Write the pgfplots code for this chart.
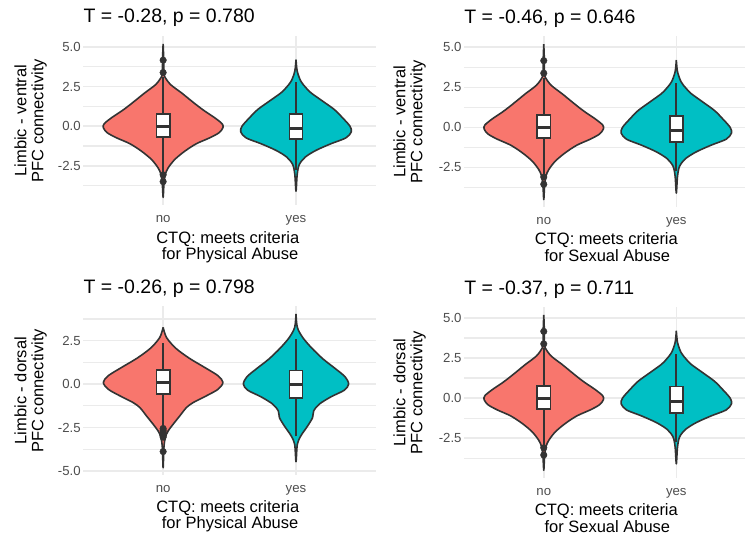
\documentclass[border=0pt]{standalone}
\usepackage{pgfplots}
\pgfplotsset{compat=1.18}
\usepackage{pgfplotstable}
\usepackage{fontspec}
\setmainfont{Liberation Sans}
\definecolor{vred}{HTML}{F8766D}
\definecolor{vteal}{HTML}{00BFC4}
\definecolor{dk}{HTML}{333333}
\definecolor{gridc}{HTML}{EBEBEB}
\definecolor{tickc}{HTML}{4D4D4D}

% violin outlines: y value and signed half-width (x units), right side then left side
\pgfplotstableread{
y w
5.19 0
4.31 0.004
3.47 0.005
3.15 0.010
2.63 0.055
2.10 0.138
1.68 0.200
1.26 0.263
0.95 0.313
0.53 0.388
0.15 0.444
-0.10 0.450
-0.42 0.420
-0.74 0.350
-1.11 0.250
-1.58 0.163
-2.10 0.088
-2.63 0.038
-3.05 0.016
-3.68 0.006
-4.50 0
-3.68 -0.006
-3.05 -0.016
-2.63 -0.038
-2.10 -0.088
-1.58 -0.163
-1.11 -0.250
-0.74 -0.350
-0.42 -0.420
-0.10 -0.450
0.15 -0.444
0.53 -0.388
0.95 -0.313
1.26 -0.263
1.68 -0.200
2.10 -0.138
2.63 -0.055
3.15 -0.010
3.47 -0.005
4.31 -0.004
5.19 0
}\vAno
\pgfplotstableread{
y w
4.20 0
3.47 0.009
2.84 0.036
2.42 0.075
2.10 0.113
1.58 0.200
1.05 0.288
0.53 0.350
0.00 0.406
-0.36 0.416
-0.74 0.376
-1.11 0.263
-1.53 0.150
-1.95 0.070
-2.42 0.025
-3.05 0.009
-4.10 0
-3.05 -0.009
-2.42 -0.025
-1.95 -0.070
-1.53 -0.150
-1.11 -0.263
-0.74 -0.376
-0.36 -0.416
0.00 -0.406
0.53 -0.350
1.05 -0.288
1.58 -0.200
2.10 -0.113
2.42 -0.075
2.84 -0.036
3.47 -0.009
4.20 0
}\vAyes
\pgfplotstableread{
y w
3.27 0
2.69 0.025
2.08 0.093
1.50 0.195
0.96 0.313
0.48 0.414
0.10 0.450
-0.29 0.414
-0.67 0.326
-1.06 0.226
-1.35 0.175
-1.83 0.125
-2.31 0.075
-2.69 0.038
-3.08 0.016
-3.65 0.006
-4.81 0
-3.65 -0.006
-3.08 -0.016
-2.69 -0.038
-2.31 -0.075
-1.83 -0.125
-1.35 -0.175
-1.06 -0.226
-0.67 -0.326
-0.29 -0.414
0.10 -0.450
0.48 -0.414
0.96 -0.313
1.50 -0.195
2.08 -0.093
2.69 -0.025
3.27 0
}\vBno
\pgfplotstableread{
y w
4.04 0
3.27 0.010
2.69 0.050
2.08 0.118
1.44 0.205
0.87 0.300
0.42 0.370
0.00 0.396
-0.35 0.363
-0.73 0.263
-1.15 0.175
-1.54 0.133
-1.92 0.125
-2.40 0.088
-2.98 0.036
-3.46 0.010
-4.46 0
-3.46 -0.010
-2.98 -0.036
-2.40 -0.088
-1.92 -0.125
-1.54 -0.133
-1.15 -0.175
-0.73 -0.263
-0.35 -0.363
0.00 -0.396
0.42 -0.370
0.87 -0.300
1.44 -0.205
2.08 -0.118
2.69 -0.050
3.27 -0.010
4.04 0
}\vByes

% #1 table, #2 centre, #3 colour
\newcommand{\violin}[3]{%
  \addplot[fill=#3, draw=dk, line width=1.6pt, smooth, line join=round] table[x expr=#2+\thisrow{w}, y=y] {#1};
}
% #1 left, #2 centre, #3 right, #4 lower whisker, #5 lower quartile, #6 median, #7 upper quartile, #8 upper whisker
\newcommand{\bx}[8]{%
  \addplot[dk, line width=1.7pt] coordinates {(#2,#4) (#2,#5)};
  \addplot[dk, line width=1.7pt] coordinates {(#2,#7) (#2,#8)};
  \addplot[draw=dk, fill=white, line width=1.7pt, line join=miter, line cap=rect] coordinates {(#1,#5) (#3,#5) (#3,#7) (#1,#7) (#1,#5)};
  \addplot[dk, line width=3pt] coordinates {(#1,#6) (#3,#6)};
}

\pgfplotsset{panel/.style={
  scale only axis, anchor=south west,
  xmin=0.4,
  xtick={1,2}, xticklabels={no,yes}, minor xtick={},
  axis line style={draw=none}, major tick length=0pt, minor tick length=0pt,
  grid=both,
  major grid style={gridc, line width=1.5pt},
  minor grid style={gridc, line width=1.2pt},
  tick label style={font=\fontsize{13.2}{14}\selectfont, text=tickc},
  xticklabel style={anchor=base, inner sep=0pt, yshift=-17.4pt},
  yticklabel style={anchor=east, inner sep=0pt, xshift=-2.5pt},
  outl/.style={only marks, mark=*, mark size=3.3pt, color=dk},
}}
\newcommand{\tfont}{\fontsize{19.5}{20}\selectfont}
\newcommand{\afont}{\fontsize{16.5}{17}\selectfont}

\begin{document}
\begin{tikzpicture}[x=1pt, y=1pt]
\path (0pt,0pt) rectangle (746pt,537pt);

% ---------- Panel 1 ----------
\begin{axis}[panel, at={(83.5pt,331.7pt)}, width=292.6pt, height=169pt,
  xmax=2.6, ymin=-4.98, ymax=5.67,
  ytick={-2.5,0,2.5,5}, yticklabels={-2.5,0.0,2.5,5.0},
  minor ytick={-3.75,-1.25,1.25,3.75}]
\violin{\vAno}{1}{vred}
\violin{\vAyes}{2}{vteal}
\bx{0.95}{1}{1.05}{-2.9}{-0.67}{-0.04}{0.78}{3.1}
\bx{1.95}{2}{2.05}{-2.78}{-0.82}{-0.15}{0.78}{2.8}
\addplot[outl] coordinates {(1,4.16) (1,3.38) (1,-3.07) (1,-3.5)};
\end{axis}

% ---------- Panel 2 ----------
\begin{axis}[panel, at={(464.7pt,329.6pt)}, width=281.3pt, height=170.9pt,
  xmax=2.52, ymin=-4.98, ymax=5.67,
  ytick={-2.5,0,2.5,5}, yticklabels={-2.5,0.0,2.5,5.0},
  minor ytick={-3.75,-1.25,1.25,3.75}]
\violin{\vAno}{1}{vred}
\violin{\vAyes}{2}{vteal}
\bx{0.95}{1}{1.05}{-2.9}{-0.68}{-0.04}{0.75}{3.1}
\bx{1.95}{2}{2.05}{-2.74}{-0.93}{-0.2}{0.73}{2.76}
\addplot[outl] coordinates {(1,4.16) (1,3.38) (1,-3.1) (1,-3.55)};
\end{axis}

% ---------- Panel 3 ----------
\begin{axis}[panel, at={(83.5pt,61.3pt)}, width=292.6pt, height=169.1pt,
  xmax=2.6, ymin=-5.24, ymax=4.48,
  ytick={-5,-2.5,0,2.5}, yticklabels={-5.0,-2.5,0.0,2.5},
  minor ytick={-3.75,-1.25,1.25,3.75}]
\violin{\vBno}{1}{vred}
\violin{\vByes}{2}{vteal}
\bx{0.95}{1}{1.05}{-2.45}{-0.55}{0.08}{0.8}{2.35}
\bx{1.95}{2}{2.05}{-3.0}{-0.79}{-0.02}{0.78}{2.57}
\addplot[outl] coordinates {(1,-2.55) (1,-2.65) (1,-2.75) (1,-2.85) (1,-2.95) (1,-3.05) (1,-3.88)};
\end{axis}

% ---------- Panel 4 ----------
\begin{axis}[panel, at={(464.7pt,58.6pt)}, width=281.3pt, height=170.9pt,
  xmax=2.52, ymin=-4.98, ymax=5.67,
  ytick={-2.5,0,2.5,5}, yticklabels={-2.5,0.0,2.5,5.0},
  minor ytick={-3.75,-1.25,1.25,3.75}]
\violin{\vAno}{1}{vred}
\violin{\vAyes}{2}{vteal}
\bx{0.95}{1}{1.05}{-2.9}{-0.68}{-0.04}{0.75}{3.1}
\bx{1.95}{2}{2.05}{-2.74}{-0.93}{-0.2}{0.73}{2.76}
\addplot[outl] coordinates {(1,4.16) (1,3.38) (1,-3.1) (1,-3.55)};
\end{axis}

% ---------- titles ----------
\node[anchor=base west, inner sep=0pt, font=\tfont] at (83.5pt,514.3pt) {T = -0.28, p = 0.780};
\node[anchor=base west, inner sep=0pt, font=\tfont] at (464.7pt,513.7pt) {T = -0.46, p = 0.646};
\node[anchor=base west, inner sep=0pt, font=\tfont] at (83.5pt,243pt) {T = -0.26, p = 0.798};
\node[anchor=base west, inner sep=0pt, font=\tfont] at (464.7pt,242pt) {T = -0.37, p = 0.711};

% ---------- y titles ----------
\node[rotate=90, anchor=south, inner sep=0pt, align=center, font=\afont] at (47pt,416.2pt) {Limbic - ventral\\PFC connectivity};
\node[rotate=90, anchor=south, inner sep=0pt, align=center, font=\afont] at (426.5pt,415pt) {Limbic - ventral\\PFC connectivity};
\node[rotate=90, anchor=south, inner sep=0pt, align=center, font=\afont] at (47pt,145.9pt) {Limbic - dorsal\\PFC connectivity};
\node[rotate=90, anchor=south, inner sep=0pt, align=center, font=\afont] at (426.5pt,144pt) {Limbic - dorsal\\PFC connectivity};

% ---------- x titles ----------
\node[anchor=base, inner sep=0pt, font=\afont] at (228pt,293.7pt) {CTQ: meets criteria};
\node[anchor=base, inner sep=0pt, font=\afont] at (230.3pt,277.7pt) {for Physical Abuse};
\node[anchor=base, inner sep=0pt, font=\afont] at (607pt,292pt) {CTQ: meets criteria};
\node[anchor=base, inner sep=0pt, font=\afont] at (608pt,275.3pt) {for Sexual Abuse};
\node[anchor=base, inner sep=0pt, font=\afont] at (228pt,24.3pt) {CTQ: meets criteria};
\node[anchor=base, inner sep=0pt, font=\afont] at (230.3pt,7.7pt) {for Physical Abuse};
\node[anchor=base, inner sep=0pt, font=\afont] at (607pt,21pt) {CTQ: meets criteria};
\node[anchor=base, inner sep=0pt, font=\afont] at (608pt,4.3pt) {for Sexual Abuse};
\end{tikzpicture}
\end{document}
